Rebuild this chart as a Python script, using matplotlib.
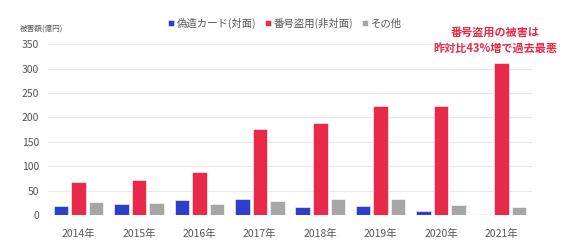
import matplotlib
matplotlib.use('Agg')
import matplotlib.pyplot as plt
import numpy as np

plt.rcParams['font.family'] = ['Noto Sans CJK JP', 'DejaVu Sans']

## data (億円)
years = ['2014年', '2015年', '2016年', '2017年', '2018年', '2019年', '2020年', '2021年']
counterfeit = [19, 23, 31, 32, 16, 18, 8, 1]
number_theft = [67, 72, 89, 176, 188, 223, 224, 312]
other = [27, 25, 22, 28, 32, 33, 21, 16]

series_names = ['偽造カード(対面)', '番号盗用(非対面)', 'その他']
series_colors = ['#2B3FCC', '#E8294A', '#A6A6A6']

fig = plt.figure(figsize=(5.67, 2.52), dpi=100)
ax = fig.add_axes([0.085, 0.147, 0.853, 0.677])

x = np.arange(len(years))
offset = 0.29
width = 0.24
for i, (vals, name, col) in enumerate(zip([counterfeit, number_theft, other], series_names, series_colors)):
    ax.bar(x + (i - 1) * offset, vals, width, color=col, label=name, zorder=3,
           edgecolor='white', linewidth=0.4)
# the 2021 counterfeit bar is drawn faint in the original
ax.patches[len(years) - 1].set_facecolor('#B8C0EE')

ax.set_xlim(-0.5, len(years) - 0.5)
ax.set_ylim(0, 350)
ax.set_yticks(np.arange(0, 351, 50))
ax.set_xticks(x)
ax.set_xticklabels(years)
ax.tick_params(axis='both', length=0, labelsize=7.5, colors='#555555')
ax.tick_params(axis='x', pad=10)
ax.tick_params(axis='y', pad=6.5)
ax.grid(axis='y', color='#E8E8E8', linewidth=0.8, zorder=0)
for s in ax.spines.values():
    s.set_visible(False)

fig.text(0.035, 0.885, '被害額(億円)', fontsize=5.5, color='#555555', va='center')

leg = ax.legend(loc='center', bbox_to_anchor=(0.49, 1.125), ncol=3, frameon=False,
                fontsize=7.5, handlelength=0.55, handleheight=0.55, handletextpad=0.3,
                columnspacing=0.8, labelcolor='#555555')

fig.text(0.873, 0.841, '番号盗用の被害は\n昨対比43%増で過去最悪', fontsize=8, color='#E8294A',
         fontweight='bold', ha='center', va='center', linespacing=1.3)

fig.savefig('out.png', dpi=100)
